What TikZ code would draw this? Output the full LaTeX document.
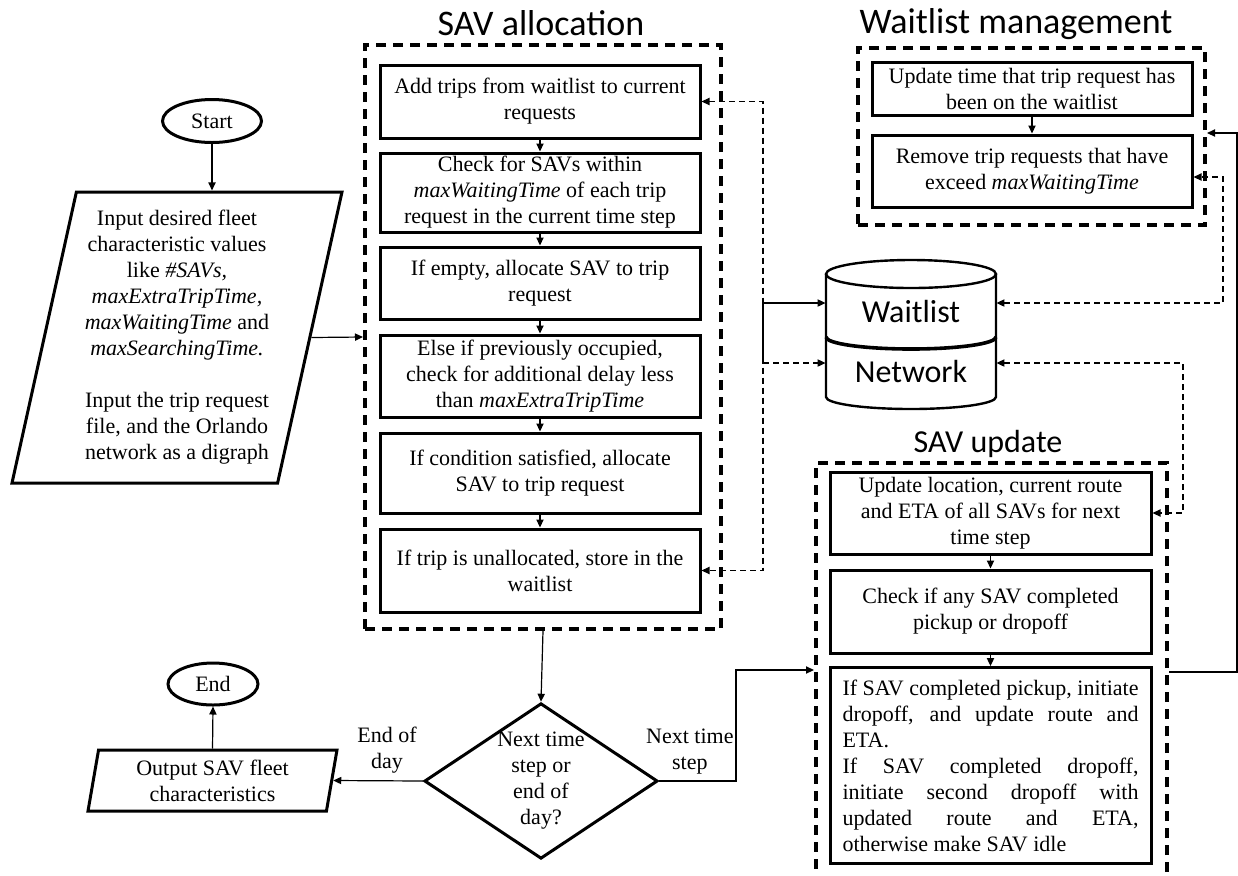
\documentclass[tikz,border=0pt]{standalone}
\usepackage{fontspec}
\setmainfont{Liberation Serif}
\newfontfamily\calibri{Carlito}
\usetikzlibrary{shapes.geometric,arrows.meta}
\newcommand{\jline}[1]{\makebox[148pt][s]{#1}}

\begin{document}
\begin{tikzpicture}[
    x=0.5pt, y=-0.5pt,
    every node/.style={font=\fontsize{11}{13}\selectfont},
    stepbox/.style={draw, line width=1.5pt, minimum width=160pt, align=center, inner sep=1pt},
    group/.style={draw, line width=2pt, dash pattern=on 5pt off 3.5pt, inner sep=0pt},
    title/.style={font=\calibri\fontsize{18}{20}\selectfont},
    term/.style={ellipse, draw, line width=1.5pt, inner sep=0pt},
    io/.style={trapezium, draw, line width=1.5pt, trapezium stretches body, align=center, inner sep=1pt},
    decision/.style={diamond, draw, line width=1.5pt, aspect=1.5, inner sep=0pt, align=center},
    dbrow/.style={font=\calibri\fontsize{16}{18}\selectfont, minimum width=85pt, inner sep=0pt},
    lbl/.style={align=center},
    conn/.style={-{Triangle[length=4pt,width=3.6pt]}, line width=0.6pt},
    dconn/.style={conn, dash pattern=on 3pt off 2pt},
    dboth/.style={dconn, {Triangle[length=4pt,width=3.6pt]}-{Triangle[length=4pt,width=3.6pt]}},
]
\useasboundingbox (0,0) rectangle (1238,875);
\clip (0,0) rectangle (1238,875);

% Start and input
\node[term, minimum width=49.5pt, minimum height=21.5pt] (start) at (212,121) {Start};
\node[io, trapezium left angle=76, trapezium right angle=104,
      minimum width=165pt, minimum height=145.5pt] (input) at (177,337.5)
  {Input desired fleet\\characteristic values\\like \textit{\#SAVs,}\\
   \textit{maxExtraTripTime,}\\\textit{maxWaitingTime} and\\\textit{maxSearchingTime.}\\[13pt]
   Input the trip request\\file, and the Orlando\\network as a digraph};

% SAV allocation
\node[group, minimum width=178pt, minimum height=292pt] (alloc) at (543,337) {};
\node[title] at (541,23) {SAV allocation};
\node[stepbox, minimum height=36.5pt] (alloc1) at (540,101.5) {Add trips from waitlist to current\\requests};
\node[stepbox, minimum height=39.5pt] (alloc2) at (540,192.5) {Check for SAVs within\\\textit{maxWaitingTime} of each trip\\request in the current time step};
\node[stepbox, minimum height=36pt]   (alloc3) at (540,283)   {If empty, allocate SAV to trip\\request};
\node[stepbox, minimum height=41pt]   (alloc4) at (540,376)   {Else if previously occupied,\\check for additional delay less\\than \textit{maxExtraTripTime}};
\node[stepbox, minimum height=40pt]   (alloc5) at (540,473)   {If condition satisfied, allocate\\SAV to trip request};
\node[stepbox, minimum height=41.5pt] (alloc6) at (540,570.5) {If trip is unallocated, store in the\\waitlist};
\draw[conn] (alloc1) -- (alloc2);
\draw[conn] (alloc2) -- (alloc3);
\draw[conn] (alloc3) -- (alloc4);
\draw[conn] (alloc4) -- (alloc5);
\draw[conn] (alloc5) -- (alloc6);

% Decision and end
\node[decision, minimum width=115pt, minimum height=77pt] (next) at (541,781) {Next time\\step or\\end of\\day?};
\node[io, trapezium left angle=77, trapezium right angle=103,
      minimum width=124.5pt, minimum height=30.5pt] (output) at (212.5,780.5) {Output SAV fleet\\characteristics};
\node[term, minimum width=45pt, minimum height=21pt] (end) at (213,684) {End};

% Waitlist management
\node[group, minimum width=173.5pt, minimum height=88.5pt] (wlgroup) at (1031.5,136.5) {};
\node[title] at (1016,24) {Waitlist management};
\node[stepbox, minimum height=26.5pt] (wl1) at (1032,88.5) {Update time that trip request has\\been on the waitlist};
\node[stepbox, minimum height=36pt]   (wl2) at (1032,171)  {Remove trip requests that have\\exceed \textit{maxWaitingTime}};
\draw[conn] (wl1) -- (wl2);

% Database
\draw[line width=1.2pt] (911,274) ellipse [x radius=85, y radius=14];
\draw[line width=1.2pt] (826,274) -- (826,397) arc[start angle=180, end angle=0, x radius=85, y radius=12] -- (996,274);
\draw[line width=1.8pt] (826,337) arc[start angle=180, end angle=0, x radius=85, y radius=12];
\node[dbrow] (waitlist) at (911,311) {Waitlist};
\node[dbrow] (network)  at (911,371) {Network};

% SAV update
\node[group, minimum width=175.5pt, minimum height=216pt] (update) at (991.5,679) {};
\node[title, font=\calibri\fontsize{16}{18}\selectfont] at (988,444) {SAV update};
\node[stepbox, minimum width=160.5pt, minimum height=41pt]   (upd1) at (990.5,513)   {Update location, current route\\and ETA of all SAVs for next\\time step};
\node[stepbox, minimum width=160.5pt, minimum height=41.5pt] (upd2) at (990.5,611.5) {Check if any SAV completed\\pickup or dropoff};
\node[stepbox, minimum width=160.5pt, minimum height=96.5pt, align=left, inner sep=6pt] (upd3) at (990.5,765.5)
  {\jline{If SAV completed pickup, initiate}\\\jline{dropoff, and update route and}\\ETA.\\
   \jline{If SAV completed dropoff,}\\\jline{initiate second dropoff with}\\\jline{updated route and ETA,}\\otherwise make SAV idle};
\draw[conn] (upd1) -- (upd2);
\draw[conn] (upd2) -- (upd3);

% Connectors
\coordinate (colL)  at (763,0);
\coordinate (colR1) at (1223,0);
\coordinate (colR2) at (1183,0);
\coordinate (jog)   at (736,670);
\coordinate (rloop) at (1237,672);
\coordinate (rtop)  at (1237,133);
\coordinate (wlin)  at ([yshift=4pt]waitlist.west);
\coordinate (ntin)  at ([yshift=4pt]network.west);
\coordinate (wlout) at ([yshift=4pt]waitlist.east);
\coordinate (ntout) at ([yshift=4pt]network.east);
\coordinate (wlend) at ([yshift=-3pt]wl2.east);

\draw[conn] (start) -- (start |- input.north);
\draw[conn] (input.right side) -- (alloc.west);
\draw[conn] (alloc.south) -- (next.north);
\draw[conn] (next.west) -- node[lbl, above, pos=0.4] {End of\\day} (output.right side);
\draw[conn] (output.north) -- (end.south);
\draw[conn] (next.east) -| node[lbl, above, pos=0.2] {Next time\\step} (jog) -- (jog -| update.west);
\draw[conn] (rloop -| update.east) -- (rloop) -- (rtop) -- (rtop -| wlgroup.east);

\draw[dboth] (alloc1.east) -- (alloc1.east -| colL) -- (alloc6.east -| colL) -- (alloc6.east);
\draw[conn] (wlin -| colL) -- (wlin);
\draw[line width=0.6pt] (wlin -| colL) -- (ntin -| colL);
\draw[dconn] (ntin -| colL) -- (ntin);
\draw[dboth] (wlout) -- (wlout -| colR1) -- (colR1 |- wlend) -- (wlend);
\draw[dboth] (ntout) -- (ntout -| colR2) -- (colR2 |- upd1.east) -- (upd1.east);
\end{tikzpicture}
\end{document}
